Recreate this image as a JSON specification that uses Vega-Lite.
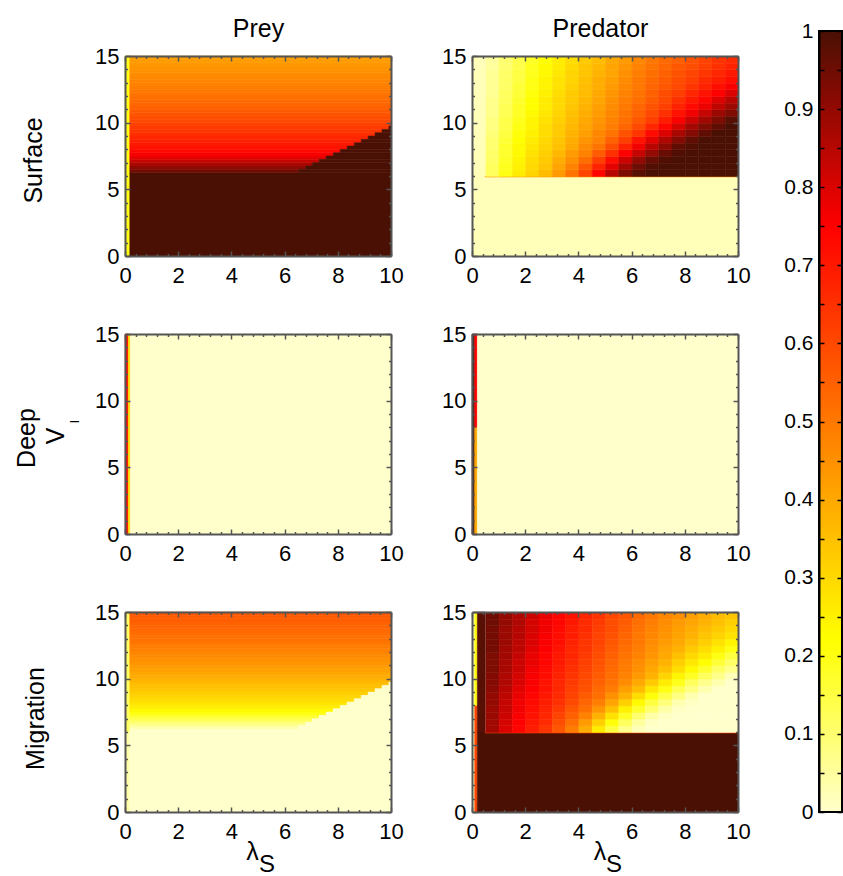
{
"$schema":"https://vega.github.io/schema/vega-lite/v6.json",
"padding":{"left":13,"top":16,"right":2,"bottom":2},
"background":"white",
"config":{
 "view":{"stroke":null},
 "font":"Liberation Sans",
 "axis":{"domainColor":"#555555","domainWidth":2,"tickColor":"#555555","tickWidth":1.5,"labelFont":"Liberation Sans","labelFontSize":22,"labelColor":"#000000","titleFont":"Liberation Sans","titleFontSize":25,"titleFontWeight":"normal","titleColor":"#000000","grid":false,"labelOverlap":false,"labelFlush":false,"labelBound":false}
},
"datasets":{
 "blocks":[
  {"p":"PyS","x":0,"x2":0.18,"y":0,"y2":15,"v":0.2},
  {"p":"PyS","x":0.18,"x2":10,"y":0,"y2":6.25,"v":1},
  {"p":"PyD","x":0,"x2":0.12,"y":0,"y2":15,"v":0.75},
  {"p":"PyD","x":0.12,"x2":0.2,"y":0,"y2":15,"v":0.3},
  {"p":"PyD","x":0.2,"x2":10,"y":0,"y2":15,"v":0},
  {"p":"PyM","x":0,"x2":0.18,"y":0,"y2":6,"v":0.04},
  {"p":"PyM","x":0,"x2":0.18,"y":6,"y2":15,"v":0.12},
  {"p":"PyM","x":0.18,"x2":10,"y":0,"y2":6.25,"v":0},
  {"p":"PdS","x":0,"x2":10,"y":0,"y2":6,"v":0.02},
  {"p":"PdS","x":0,"x2":0.5,"y":6,"y2":15,"v":0.02},
  {"p":"PdS","x":0.5,"x2":10,"y":5.92,"y2":6,"v":0.45},
  {"p":"PdD","x":0,"x2":0.1,"y":0,"y2":15,"v":1},
  {"p":"PdD","x":0.1,"x2":0.2,"y":0,"y2":8,"v":0.4},
  {"p":"PdD","x":0.1,"x2":0.2,"y":8,"y2":15,"v":0.75},
  {"p":"PdD","x":0.2,"x2":10,"y":0,"y2":15,"v":0},
  {"p":"PdM","x":0,"x2":0.1,"y":0,"y2":15,"v":0.02},
  {"p":"PdM","x":0.1,"x2":0.2,"y":0,"y2":8,"v":0.6},
  {"p":"PdM","x":0.1,"x2":0.2,"y":8,"y2":15,"v":0.2},
  {"p":"PdM","x":0.2,"x2":10,"y":0,"y2":6,"v":1},
  {"p":"PdM","x":0.2,"x2":0.5,"y":6,"y2":15,"v":0.98},
  {"p":"PdM","x":0.5,"x2":10,"y":5.92,"y2":6,"v":0.6}
 ],
 "preyBands":[
  {"y":6.25,"y2":6.5,"xb":6.53,"s":0.95,"m":0.04},
  {"y":6.5,"y2":6.75,"xb":6.79,"s":0.91,"m":0.08},
  {"y":6.75,"y2":7,"xb":7.04,"s":0.87,"m":0.12},
  {"y":7,"y2":7.25,"xb":7.3,"s":0.83,"m":0.16},
  {"y":7.25,"y2":7.5,"xb":7.56,"s":0.79,"m":0.2},
  {"y":7.5,"y2":7.75,"xb":7.83,"s":0.76,"m":0.23},
  {"y":7.75,"y2":8,"xb":8.09,"s":0.735,"m":0.255},
  {"y":8,"y2":8.25,"xb":8.35,"s":0.715,"m":0.275},
  {"y":8.25,"y2":8.5,"xb":8.62,"s":0.7,"m":0.29},
  {"y":8.5,"y2":8.75,"xb":8.88,"s":0.685,"m":0.305},
  {"y":8.75,"y2":9,"xb":9.14,"s":0.67,"m":0.32},
  {"y":9,"y2":9.25,"xb":9.4,"s":0.655,"m":0.335},
  {"y":9.25,"y2":9.5,"xb":9.66,"s":0.64,"m":0.35},
  {"y":9.5,"y2":9.75,"xb":9.92,"s":0.63,"m":0.36},
  {"y":9.75,"y2":10,"xb":10,"s":0.615,"m":0.375},
  {"y":10,"y2":10.25,"xb":10,"s":0.6,"m":0.39},
  {"y":10.25,"y2":10.5,"xb":10,"s":0.59,"m":0.4},
  {"y":10.5,"y2":10.75,"xb":10,"s":0.575,"m":0.415},
  {"y":10.75,"y2":11,"xb":10,"s":0.565,"m":0.425},
  {"y":11,"y2":11.25,"xb":10,"s":0.55,"m":0.44},
  {"y":11.25,"y2":11.5,"xb":10,"s":0.54,"m":0.45},
  {"y":11.5,"y2":11.75,"xb":10,"s":0.53,"m":0.46},
  {"y":11.75,"y2":12,"xb":10,"s":0.52,"m":0.47},
  {"y":12,"y2":12.25,"xb":10,"s":0.51,"m":0.48},
  {"y":12.25,"y2":12.5,"xb":10,"s":0.5,"m":0.49},
  {"y":12.5,"y2":12.75,"xb":10,"s":0.49,"m":0.5},
  {"y":12.75,"y2":13,"xb":10,"s":0.48,"m":0.51},
  {"y":13,"y2":13.25,"xb":10,"s":0.475,"m":0.515},
  {"y":13.25,"y2":13.5,"xb":10,"s":0.465,"m":0.525},
  {"y":13.5,"y2":13.75,"xb":10,"s":0.46,"m":0.53},
  {"y":13.75,"y2":14,"xb":10,"s":0.45,"m":0.54},
  {"y":14,"y2":14.25,"xb":10,"s":0.445,"m":0.545},
  {"y":14.25,"y2":14.5,"xb":10,"s":0.435,"m":0.555},
  {"y":14.5,"y2":14.75,"xb":10,"s":0.43,"m":0.56},
  {"y":14.75,"y2":15,"xb":10,"s":0.42,"m":0.57}
 ],
 "grid":[
  {"x":0.5,"y":6,"s":0.12,"m":0.88},{"x":1,"y":6,"s":0.2,"m":0.8},{"x":1.5,"y":6,"s":0.26,"m":0.74},{"x":2,"y":6,"s":0.31,"m":0.69},{"x":2.5,"y":6,"s":0.36,"m":0.64},{"x":3,"y":6,"s":0.43,"m":0.57},{"x":3.5,"y":6,"s":0.51,"m":0.49},{"x":4,"y":6,"s":0.61,"m":0.39},{"x":4.5,"y":6,"s":0.74,"m":0.26},{"x":5,"y":6,"s":0.85,"m":0.15},{"x":5.5,"y":6,"s":0.93,"m":0.07},{"x":6,"y":6,"s":0.98,"m":0.02},{"x":6.5,"y":6,"s":1,"m":0},{"x":7,"y":6,"s":1,"m":0},{"x":7.5,"y":6,"s":1,"m":0},{"x":8,"y":6,"s":1,"m":0},{"x":8.5,"y":6,"s":1,"m":0},{"x":9,"y":6,"s":1,"m":0},{"x":9.5,"y":6,"s":1,"m":0},
  {"x":0.5,"y":6.5,"s":0.12,"m":0.88},{"x":1,"y":6.5,"s":0.19,"m":0.81},{"x":1.5,"y":6.5,"s":0.25,"m":0.75},{"x":2,"y":6.5,"s":0.3,"m":0.7},{"x":2.5,"y":6.5,"s":0.34,"m":0.66},{"x":3,"y":6.5,"s":0.41,"m":0.59},{"x":3.5,"y":6.5,"s":0.48,"m":0.52},{"x":4,"y":6.5,"s":0.57,"m":0.43},{"x":4.5,"y":6.5,"s":0.68,"m":0.32},{"x":5,"y":6.5,"s":0.79,"m":0.21},{"x":5.5,"y":6.5,"s":0.88,"m":0.12},{"x":6,"y":6.5,"s":0.95,"m":0.05},{"x":6.5,"y":6.5,"s":0.99,"m":0.01},{"x":7,"y":6.5,"s":1,"m":0},{"x":7.5,"y":6.5,"s":1,"m":0},{"x":8,"y":6.5,"s":1,"m":0},{"x":8.5,"y":6.5,"s":1,"m":0},{"x":9,"y":6.5,"s":1,"m":0},{"x":9.5,"y":6.5,"s":1,"m":0},
  {"x":0.5,"y":7,"s":0.11,"m":0.89},{"x":1,"y":7,"s":0.18,"m":0.82},{"x":1.5,"y":7,"s":0.24,"m":0.76},{"x":2,"y":7,"s":0.29,"m":0.71},{"x":2.5,"y":7,"s":0.33,"m":0.67},{"x":3,"y":7,"s":0.39,"m":0.61},{"x":3.5,"y":7,"s":0.45,"m":0.55},{"x":4,"y":7,"s":0.52,"m":0.48},{"x":4.5,"y":7,"s":0.62,"m":0.38},{"x":5,"y":7,"s":0.72,"m":0.28},{"x":5.5,"y":7,"s":0.82,"m":0.18},{"x":6,"y":7,"s":0.9,"m":0.1},{"x":6.5,"y":7,"s":0.96,"m":0.04},{"x":7,"y":7,"s":0.99,"m":0.01},{"x":7.5,"y":7,"s":1,"m":0},{"x":8,"y":7,"s":1,"m":0},{"x":8.5,"y":7,"s":1,"m":0},{"x":9,"y":7,"s":1,"m":0},{"x":9.5,"y":7,"s":1,"m":0},
  {"x":0.5,"y":7.5,"s":0.11,"m":0.89},{"x":1,"y":7.5,"s":0.17,"m":0.83},{"x":1.5,"y":7.5,"s":0.23,"m":0.77},{"x":2,"y":7.5,"s":0.28,"m":0.72},{"x":2.5,"y":7.5,"s":0.32,"m":0.68},{"x":3,"y":7.5,"s":0.37,"m":0.63},{"x":3.5,"y":7.5,"s":0.43,"m":0.57},{"x":4,"y":7.5,"s":0.48,"m":0.52},{"x":4.5,"y":7.5,"s":0.56,"m":0.44},{"x":5,"y":7.5,"s":0.65,"m":0.35},{"x":5.5,"y":7.5,"s":0.75,"m":0.25},{"x":6,"y":7.5,"s":0.83,"m":0.17},{"x":6.5,"y":7.5,"s":0.9,"m":0.1},{"x":7,"y":7.5,"s":0.96,"m":0.04},{"x":7.5,"y":7.5,"s":0.99,"m":0.01},{"x":8,"y":7.5,"s":1,"m":0},{"x":8.5,"y":7.5,"s":1,"m":0},{"x":9,"y":7.5,"s":1,"m":0},{"x":9.5,"y":7.5,"s":1,"m":0},
  {"x":0.5,"y":8,"s":0.1,"m":0.9},{"x":1,"y":8,"s":0.17,"m":0.83},{"x":1.5,"y":8,"s":0.23,"m":0.77},{"x":2,"y":8,"s":0.27,"m":0.73},{"x":2.5,"y":8,"s":0.31,"m":0.69},{"x":3,"y":8,"s":0.35,"m":0.65},{"x":3.5,"y":8,"s":0.4,"m":0.6},{"x":4,"y":8,"s":0.46,"m":0.54},{"x":4.5,"y":8,"s":0.51,"m":0.49},{"x":5,"y":8,"s":0.59,"m":0.41},{"x":5.5,"y":8,"s":0.68,"m":0.32},{"x":6,"y":8,"s":0.77,"m":0.23},{"x":6.5,"y":8,"s":0.85,"m":0.15},{"x":7,"y":8,"s":0.91,"m":0.09},{"x":7.5,"y":8,"s":0.97,"m":0.03},{"x":8,"y":8,"s":0.99,"m":0.01},{"x":8.5,"y":8,"s":1,"m":0},{"x":9,"y":8,"s":1,"m":0},{"x":9.5,"y":8,"s":1,"m":0},
  {"x":0.5,"y":8.5,"s":0.1,"m":0.9},{"x":1,"y":8.5,"s":0.16,"m":0.84},{"x":1.5,"y":8.5,"s":0.22,"m":0.78},{"x":2,"y":8.5,"s":0.26,"m":0.74},{"x":2.5,"y":8.5,"s":0.3,"m":0.7},{"x":3,"y":8.5,"s":0.34,"m":0.66},{"x":3.5,"y":8.5,"s":0.39,"m":0.61},{"x":4,"y":8.5,"s":0.44,"m":0.56},{"x":4.5,"y":8.5,"s":0.48,"m":0.52},{"x":5,"y":8.5,"s":0.55,"m":0.45},{"x":5.5,"y":8.5,"s":0.62,"m":0.38},{"x":6,"y":8.5,"s":0.71,"m":0.29},{"x":6.5,"y":8.5,"s":0.79,"m":0.21},{"x":7,"y":8.5,"s":0.86,"m":0.14},{"x":7.5,"y":8.5,"s":0.92,"m":0.08},{"x":8,"y":8.5,"s":0.97,"m":0.03},{"x":8.5,"y":8.5,"s":1,"m":0},{"x":9,"y":8.5,"s":1,"m":0},{"x":9.5,"y":8.5,"s":1,"m":0},
  {"x":0.5,"y":9,"s":0.09,"m":0.91},{"x":1,"y":9,"s":0.15,"m":0.85},{"x":1.5,"y":9,"s":0.21,"m":0.79},{"x":2,"y":9,"s":0.25,"m":0.75},{"x":2.5,"y":9,"s":0.29,"m":0.71},{"x":3,"y":9,"s":0.33,"m":0.67},{"x":3.5,"y":9,"s":0.38,"m":0.62},{"x":4,"y":9,"s":0.42,"m":0.58},{"x":4.5,"y":9,"s":0.47,"m":0.53},{"x":5,"y":9,"s":0.51,"m":0.49},{"x":5.5,"y":9,"s":0.58,"m":0.42},{"x":6,"y":9,"s":0.64,"m":0.36},{"x":6.5,"y":9,"s":0.73,"m":0.27},{"x":7,"y":9,"s":0.8,"m":0.2},{"x":7.5,"y":9,"s":0.87,"m":0.13},{"x":8,"y":9,"s":0.92,"m":0.08},{"x":8.5,"y":9,"s":0.97,"m":0.03},{"x":9,"y":9,"s":1,"m":0},{"x":9.5,"y":9,"s":1,"m":0},
  {"x":0.5,"y":9.5,"s":0.08,"m":0.92},{"x":1,"y":9.5,"s":0.14,"m":0.86},{"x":1.5,"y":9.5,"s":0.2,"m":0.8},{"x":2,"y":9.5,"s":0.24,"m":0.76},{"x":2.5,"y":9.5,"s":0.29,"m":0.71},{"x":3,"y":9.5,"s":0.33,"m":0.67},{"x":3.5,"y":9.5,"s":0.37,"m":0.63},{"x":4,"y":9.5,"s":0.41,"m":0.59},{"x":4.5,"y":9.5,"s":0.45,"m":0.55},{"x":5,"y":9.5,"s":0.49,"m":0.51},{"x":5.5,"y":9.5,"s":0.54,"m":0.46},{"x":6,"y":9.5,"s":0.6,"m":0.4},{"x":6.5,"y":9.5,"s":0.67,"m":0.33},{"x":7,"y":9.5,"s":0.74,"m":0.26},{"x":7.5,"y":9.5,"s":0.81,"m":0.19},{"x":8,"y":9.5,"s":0.88,"m":0.12},{"x":8.5,"y":9.5,"s":0.93,"m":0.07},{"x":9,"y":9.5,"s":0.97,"m":0.03},{"x":9.5,"y":9.5,"s":1,"m":0},
  {"x":0.5,"y":10,"s":0.08,"m":0.92},{"x":1,"y":10,"s":0.14,"m":0.86},{"x":1.5,"y":10,"s":0.19,"m":0.81},{"x":2,"y":10,"s":0.24,"m":0.76},{"x":2.5,"y":10,"s":0.28,"m":0.72},{"x":3,"y":10,"s":0.32,"m":0.68},{"x":3.5,"y":10,"s":0.36,"m":0.64},{"x":4,"y":10,"s":0.4,"m":0.6},{"x":4.5,"y":10,"s":0.44,"m":0.56},{"x":5,"y":10,"s":0.48,"m":0.52},{"x":5.5,"y":10,"s":0.52,"m":0.48},{"x":6,"y":10,"s":0.57,"m":0.43},{"x":6.5,"y":10,"s":0.62,"m":0.38},{"x":7,"y":10,"s":0.69,"m":0.31},{"x":7.5,"y":10,"s":0.76,"m":0.24},{"x":8,"y":10,"s":0.82,"m":0.18},{"x":8.5,"y":10,"s":0.88,"m":0.12},{"x":9,"y":10,"s":0.93,"m":0.07},{"x":9.5,"y":10,"s":0.98,"m":0.02},
  {"x":0.5,"y":10.5,"s":0.07,"m":0.93},{"x":1,"y":10.5,"s":0.13,"m":0.87},{"x":1.5,"y":10.5,"s":0.18,"m":0.82},{"x":2,"y":10.5,"s":0.23,"m":0.77},{"x":2.5,"y":10.5,"s":0.27,"m":0.73},{"x":3,"y":10.5,"s":0.31,"m":0.69},{"x":3.5,"y":10.5,"s":0.35,"m":0.65},{"x":4,"y":10.5,"s":0.39,"m":0.61},{"x":4.5,"y":10.5,"s":0.43,"m":0.57},{"x":5,"y":10.5,"s":0.47,"m":0.53},{"x":5.5,"y":10.5,"s":0.51,"m":0.49},{"x":6,"y":10.5,"s":0.55,"m":0.45},{"x":6.5,"y":10.5,"s":0.6,"m":0.4},{"x":7,"y":10.5,"s":0.65,"m":0.35},{"x":7.5,"y":10.5,"s":0.71,"m":0.29},{"x":8,"y":10.5,"s":0.77,"m":0.23},{"x":8.5,"y":10.5,"s":0.83,"m":0.17},{"x":9,"y":10.5,"s":0.89,"m":0.11},{"x":9.5,"y":10.5,"s":0.93,"m":0.07},
  {"x":0.5,"y":11,"s":0.07,"m":0.93},{"x":1,"y":11,"s":0.13,"m":0.87},{"x":1.5,"y":11,"s":0.18,"m":0.82},{"x":2,"y":11,"s":0.22,"m":0.78},{"x":2.5,"y":11,"s":0.26,"m":0.74},{"x":3,"y":11,"s":0.3,"m":0.7},{"x":3.5,"y":11,"s":0.34,"m":0.66},{"x":4,"y":11,"s":0.38,"m":0.62},{"x":4.5,"y":11,"s":0.42,"m":0.58},{"x":5,"y":11,"s":0.46,"m":0.54},{"x":5.5,"y":11,"s":0.5,"m":0.5},{"x":6,"y":11,"s":0.54,"m":0.46},{"x":6.5,"y":11,"s":0.58,"m":0.42},{"x":7,"y":11,"s":0.62,"m":0.38},{"x":7.5,"y":11,"s":0.68,"m":0.32},{"x":8,"y":11,"s":0.73,"m":0.27},{"x":8.5,"y":11,"s":0.78,"m":0.22},{"x":9,"y":11,"s":0.84,"m":0.16},{"x":9.5,"y":11,"s":0.89,"m":0.11},
  {"x":0.5,"y":11.5,"s":0.07,"m":0.93},{"x":1,"y":11.5,"s":0.12,"m":0.88},{"x":1.5,"y":11.5,"s":0.17,"m":0.83},{"x":2,"y":11.5,"s":0.22,"m":0.78},{"x":2.5,"y":11.5,"s":0.26,"m":0.74},{"x":3,"y":11.5,"s":0.3,"m":0.7},{"x":3.5,"y":11.5,"s":0.33,"m":0.67},{"x":4,"y":11.5,"s":0.37,"m":0.63},{"x":4.5,"y":11.5,"s":0.41,"m":0.59},{"x":5,"y":11.5,"s":0.45,"m":0.55},{"x":5.5,"y":11.5,"s":0.49,"m":0.51},{"x":6,"y":11.5,"s":0.52,"m":0.48},{"x":6.5,"y":11.5,"s":0.56,"m":0.44},{"x":7,"y":11.5,"s":0.6,"m":0.4},{"x":7.5,"y":11.5,"s":0.65,"m":0.35},{"x":8,"y":11.5,"s":0.7,"m":0.3},{"x":8.5,"y":11.5,"s":0.74,"m":0.26},{"x":9,"y":11.5,"s":0.8,"m":0.2},{"x":9.5,"y":11.5,"s":0.85,"m":0.15},
  {"x":0.5,"y":12,"s":0.06,"m":0.94},{"x":1,"y":12,"s":0.12,"m":0.88},{"x":1.5,"y":12,"s":0.16,"m":0.84},{"x":2,"y":12,"s":0.21,"m":0.79},{"x":2.5,"y":12,"s":0.25,"m":0.75},{"x":3,"y":12,"s":0.29,"m":0.71},{"x":3.5,"y":12,"s":0.33,"m":0.67},{"x":4,"y":12,"s":0.36,"m":0.64},{"x":4.5,"y":12,"s":0.4,"m":0.6},{"x":5,"y":12,"s":0.44,"m":0.56},{"x":5.5,"y":12,"s":0.48,"m":0.52},{"x":6,"y":12,"s":0.51,"m":0.49},{"x":6.5,"y":12,"s":0.55,"m":0.45},{"x":7,"y":12,"s":0.59,"m":0.41},{"x":7.5,"y":12,"s":0.62,"m":0.38},{"x":8,"y":12,"s":0.67,"m":0.33},{"x":8.5,"y":12,"s":0.71,"m":0.29},{"x":9,"y":12,"s":0.75,"m":0.25},{"x":9.5,"y":12,"s":0.8,"m":0.2},
  {"x":0.5,"y":12.5,"s":0.06,"m":0.94},{"x":1,"y":12.5,"s":0.11,"m":0.89},{"x":1.5,"y":12.5,"s":0.16,"m":0.84},{"x":2,"y":12.5,"s":0.2,"m":0.8},{"x":2.5,"y":12.5,"s":0.24,"m":0.76},{"x":3,"y":12.5,"s":0.28,"m":0.72},{"x":3.5,"y":12.5,"s":0.32,"m":0.68},{"x":4,"y":12.5,"s":0.36,"m":0.64},{"x":4.5,"y":12.5,"s":0.39,"m":0.61},{"x":5,"y":12.5,"s":0.43,"m":0.57},{"x":5.5,"y":12.5,"s":0.47,"m":0.53},{"x":6,"y":12.5,"s":0.5,"m":0.5},{"x":6.5,"y":12.5,"s":0.54,"m":0.46},{"x":7,"y":12.5,"s":0.57,"m":0.43},{"x":7.5,"y":12.5,"s":0.6,"m":0.4},{"x":8,"y":12.5,"s":0.64,"m":0.36},{"x":8.5,"y":12.5,"s":0.68,"m":0.32},{"x":9,"y":12.5,"s":0.72,"m":0.28},{"x":9.5,"y":12.5,"s":0.76,"m":0.24},
  {"x":0.5,"y":13,"s":0.06,"m":0.94},{"x":1,"y":13,"s":0.11,"m":0.89},{"x":1.5,"y":13,"s":0.15,"m":0.85},{"x":2,"y":13,"s":0.2,"m":0.8},{"x":2.5,"y":13,"s":0.24,"m":0.76},{"x":3,"y":13,"s":0.28,"m":0.72},{"x":3.5,"y":13,"s":0.31,"m":0.69},{"x":4,"y":13,"s":0.35,"m":0.65},{"x":4.5,"y":13,"s":0.39,"m":0.61},{"x":5,"y":13,"s":0.42,"m":0.58},{"x":5.5,"y":13,"s":0.46,"m":0.54},{"x":6,"y":13,"s":0.5,"m":0.5},{"x":6.5,"y":13,"s":0.53,"m":0.47},{"x":7,"y":13,"s":0.56,"m":0.44},{"x":7.5,"y":13,"s":0.59,"m":0.41},{"x":8,"y":13,"s":0.62,"m":0.38},{"x":8.5,"y":13,"s":0.66,"m":0.34},{"x":9,"y":13,"s":0.69,"m":0.31},{"x":9.5,"y":13,"s":0.72,"m":0.28},
  {"x":0.5,"y":13.5,"s":0.06,"m":0.94},{"x":1,"y":13.5,"s":0.11,"m":0.89},{"x":1.5,"y":13.5,"s":0.15,"m":0.85},{"x":2,"y":13.5,"s":0.19,"m":0.81},{"x":2.5,"y":13.5,"s":0.23,"m":0.77},{"x":3,"y":13.5,"s":0.27,"m":0.73},{"x":3.5,"y":13.5,"s":0.31,"m":0.69},{"x":4,"y":13.5,"s":0.34,"m":0.66},{"x":4.5,"y":13.5,"s":0.38,"m":0.62},{"x":5,"y":13.5,"s":0.41,"m":0.59},{"x":5.5,"y":13.5,"s":0.45,"m":0.55},{"x":6,"y":13.5,"s":0.49,"m":0.51},{"x":6.5,"y":13.5,"s":0.52,"m":0.48},{"x":7,"y":13.5,"s":0.55,"m":0.45},{"x":7.5,"y":13.5,"s":0.58,"m":0.42},{"x":8,"y":13.5,"s":0.61,"m":0.39},{"x":8.5,"y":13.5,"s":0.64,"m":0.36},{"x":9,"y":13.5,"s":0.67,"m":0.33},{"x":9.5,"y":13.5,"s":0.7,"m":0.3},
  {"x":0.5,"y":14,"s":0.05,"m":0.95},{"x":1,"y":14,"s":0.1,"m":0.9},{"x":1.5,"y":14,"s":0.14,"m":0.86},{"x":2,"y":14,"s":0.19,"m":0.81},{"x":2.5,"y":14,"s":0.23,"m":0.77},{"x":3,"y":14,"s":0.26,"m":0.74},{"x":3.5,"y":14,"s":0.3,"m":0.7},{"x":4,"y":14,"s":0.34,"m":0.66},{"x":4.5,"y":14,"s":0.37,"m":0.63},{"x":5,"y":14,"s":0.41,"m":0.59},{"x":5.5,"y":14,"s":0.44,"m":0.56},{"x":6,"y":14,"s":0.48,"m":0.52},{"x":6.5,"y":14,"s":0.51,"m":0.49},{"x":7,"y":14,"s":0.54,"m":0.46},{"x":7.5,"y":14,"s":0.57,"m":0.43},{"x":8,"y":14,"s":0.59,"m":0.41},{"x":8.5,"y":14,"s":0.62,"m":0.38},{"x":9,"y":14,"s":0.65,"m":0.35},{"x":9.5,"y":14,"s":0.68,"m":0.32},
  {"x":0.5,"y":14.5,"s":0.05,"m":0.95},{"x":1,"y":14.5,"s":0.1,"m":0.9},{"x":1.5,"y":14.5,"s":0.14,"m":0.86},{"x":2,"y":14.5,"s":0.18,"m":0.82},{"x":2.5,"y":14.5,"s":0.22,"m":0.78},{"x":3,"y":14.5,"s":0.26,"m":0.74},{"x":3.5,"y":14.5,"s":0.29,"m":0.71},{"x":4,"y":14.5,"s":0.33,"m":0.67},{"x":4.5,"y":14.5,"s":0.36,"m":0.64},{"x":5,"y":14.5,"s":0.4,"m":0.6},{"x":5.5,"y":14.5,"s":0.43,"m":0.57},{"x":6,"y":14.5,"s":0.47,"m":0.53},{"x":6.5,"y":14.5,"s":0.5,"m":0.5},{"x":7,"y":14.5,"s":0.53,"m":0.47},{"x":7.5,"y":14.5,"s":0.55,"m":0.45},{"x":8,"y":14.5,"s":0.58,"m":0.42},{"x":8.5,"y":14.5,"s":0.61,"m":0.39},{"x":9,"y":14.5,"s":0.64,"m":0.36},{"x":9.5,"y":14.5,"s":0.66,"m":0.34}
 ],
 "cbar":[{"lo":0,"hi":1,"a":0,"b":1}]
},
"columns":3,
"align":"each",
"bounds":"flush",
"spacing":{"row":78,"column":81},
"concat":[
   {"width":266,"height":200,
    "layer":[
     {"data":{"name":"blocks"},"transform":[{"filter":"datum.p === 'PyS'"}],
      "mark":{"type":"rect","strokeWidth":0.5},
      "encoding":{
       "x":{"field":"x","type":"quantitative","scale":{"domain":[0,10],"nice":false,"zero":false},"axis":{"orient":"bottom","values":[0,0.4,0.8,1.2,1.6,2,2.4,2.8,3.2,3.6,4,4.4,4.8,5.2,5.6,6,6.4,6.8,7.2,7.6,8,8.4,8.8,9.2,9.6,10],"format":"~g","labelExpr":"datum.value % 2 === 0 ? datum.label : ''","tickSize":{"condition":{"test":"datum.value % 2 === 0","value":-5},"value":-2.5},"labelPadding":14,"title":null,"zindex":1}},
       "x2":{"field":"x2"},
       "y":{"field":"y","type":"quantitative","scale":{"domain":[0,15],"nice":false,"zero":false},"axis":{"orient":"left","values":[0,1,2,3,4,5,6,7,8,9,10,11,12,13,14,15],"format":"~g","labelExpr":"datum.value % 5 === 0 ? datum.label : ''","tickSize":{"condition":{"test":"datum.value % 5 === 0","value":-5},"value":-2.5},"labelPadding":11,"title":"Surface","titleX":-84,"titleY":104,"titleAngle":-90,"titleAlign":"center","titleBaseline":"alphabetic","zindex":1}},
       "y2":{"field":"y2"},
       "color":{"field":"v","type":"quantitative","scale":{"domain":[0,0.22,0.75,1],"range":["#ffffcc","#ffff00","#ff0000","#4a1004"],"interpolate":"rgb","clamp":true},"legend":null},
       "stroke":{"field":"v","type":"quantitative","scale":{"domain":[0,0.22,0.75,1],"range":["#ffffcc","#ffff00","#ff0000","#4a1004"],"interpolate":"rgb","clamp":true},"legend":null}}},
     {"data":{"name":"preyBands"},
      "mark":{"type":"rect","strokeWidth":0.5},
      "encoding":{
       "x":{"field":"xb","type":"quantitative","scale":{"domain":[0,10],"nice":false,"zero":false},"axis":{"orient":"top","values":[0,0.4,0.8,1.2,1.6,2,2.4,2.8,3.2,3.6,4,4.4,4.8,5.2,5.6,6,6.4,6.8,7.2,7.6,8,8.4,8.8,9.2,9.6,10],"labels":false,"tickSize":{"condition":{"test":"datum.value % 2 === 0","value":-5},"value":-2.5},"title":"Prey","titleX":133,"titleY":-20,"titleAngle":0,"titleAlign":"center","titleBaseline":"alphabetic","zindex":1}},
       "x2":{"datum":0.18},
       "y":{"field":"y","type":"quantitative","scale":{"domain":[0,15],"nice":false,"zero":false},"axis":{"orient":"right","values":[0,1,2,3,4,5,6,7,8,9,10,11,12,13,14,15],"labels":false,"tickSize":{"condition":{"test":"datum.value % 5 === 0","value":-5},"value":-2.5},"title":null,"zindex":1}},
       "y2":{"field":"y2"},
       "color":{"field":"s","type":"quantitative","scale":{"domain":[0,0.22,0.75,1],"range":["#ffffcc","#ffff00","#ff0000","#4a1004"],"interpolate":"rgb","clamp":true},"legend":null},
       "stroke":{"field":"s","type":"quantitative","scale":{"domain":[0,0.22,0.75,1],"range":["#ffffcc","#ffff00","#ff0000","#4a1004"],"interpolate":"rgb","clamp":true},"legend":null}}},
     {"data":{"name":"preyBands"},"transform":[{"filter":"datum.xb < 10"}],
      "mark":{"type":"rect","strokeWidth":0.5,"fill":"#4a1004","stroke":"#4a1004"},
      "encoding":{
       "x":{"field":"xb","type":"quantitative","scale":{"domain":[0,10],"nice":false,"zero":false},"axis":null},
       "x2":{"datum":10},
       "y":{"field":"y","type":"quantitative","scale":{"domain":[0,15],"nice":false,"zero":false},"axis":null},
       "y2":{"field":"y2"}}}
    ],
    "resolve":{"axis":{"x":"independent","y":"independent"}}},
   {"width":266,"height":200,
    "layer":[
     {"data":{"name":"blocks"},"transform":[{"filter":"datum.p === 'PdS'"}],
      "mark":{"type":"rect","strokeWidth":0.5},
      "encoding":{
       "x":{"field":"x","type":"quantitative","scale":{"domain":[0,10],"nice":false,"zero":false},"axis":{"orient":"bottom","values":[0,0.4,0.8,1.2,1.6,2,2.4,2.8,3.2,3.6,4,4.4,4.8,5.2,5.6,6,6.4,6.8,7.2,7.6,8,8.4,8.8,9.2,9.6,10],"format":"~g","labelExpr":"datum.value % 2 === 0 ? datum.label : ''","tickSize":{"condition":{"test":"datum.value % 2 === 0","value":-5},"value":-2.5},"labelPadding":14,"title":null,"zindex":1}},
       "x2":{"field":"x2"},
       "y":{"field":"y","type":"quantitative","scale":{"domain":[0,15],"nice":false,"zero":false},"axis":{"orient":"left","values":[0,1,2,3,4,5,6,7,8,9,10,11,12,13,14,15],"format":"~g","labelExpr":"datum.value % 5 === 0 ? datum.label : ''","tickSize":{"condition":{"test":"datum.value % 5 === 0","value":-5},"value":-2.5},"labelPadding":11,"title":null,"zindex":1}},
       "y2":{"field":"y2"},
       "color":{"field":"v","type":"quantitative","scale":{"domain":[0,0.22,0.75,1],"range":["#ffffcc","#ffff00","#ff0000","#4a1004"],"interpolate":"rgb","clamp":true},"legend":null},
       "stroke":{"field":"v","type":"quantitative","scale":{"domain":[0,0.22,0.75,1],"range":["#ffffcc","#ffff00","#ff0000","#4a1004"],"interpolate":"rgb","clamp":true},"legend":null}}},
     {"data":{"name":"grid"},
      "mark":{"type":"rect","binSpacing":0,"strokeWidth":0.5},
      "encoding":{
       "x":{"field":"x","type":"quantitative","bin":{"binned":true,"step":0.5},"scale":{"domain":[0,10],"nice":false,"zero":false},"axis":{"orient":"top","values":[0,0.4,0.8,1.2,1.6,2,2.4,2.8,3.2,3.6,4,4.4,4.8,5.2,5.6,6,6.4,6.8,7.2,7.6,8,8.4,8.8,9.2,9.6,10],"labels":false,"tickSize":{"condition":{"test":"datum.value % 2 === 0","value":-5},"value":-2.5},"title":"Predator","titleX":128,"titleY":-20,"titleAngle":0,"titleAlign":"center","titleBaseline":"alphabetic","zindex":1}},
       "y":{"field":"y","type":"quantitative","bin":{"binned":true,"step":0.5},"scale":{"domain":[0,15],"nice":false,"zero":false},"axis":{"orient":"right","values":[0,1,2,3,4,5,6,7,8,9,10,11,12,13,14,15],"labels":false,"tickSize":{"condition":{"test":"datum.value % 5 === 0","value":-5},"value":-2.5},"title":null,"zindex":1}},
       "color":{"field":"s","type":"quantitative","scale":{"domain":[0,0.22,0.75,1],"range":["#ffffcc","#ffff00","#ff0000","#4a1004"],"interpolate":"rgb","clamp":true},"legend":null},
       "stroke":{"field":"s","type":"quantitative","scale":{"domain":[0,0.22,0.75,1],"range":["#ffffcc","#ffff00","#ff0000","#4a1004"],"interpolate":"rgb","clamp":true},"legend":null}}}
    ],
    "resolve":{"axis":{"x":"independent","y":"independent"}}},
   {"width":23,"height":200,
    "data":{"name":"cbar"},
    "layer":[
     {"mark":{"type":"rect","fill":{"gradient":"linear","x1":0,"y1":1,"x2":0,"y2":0,"stops":[{"offset":0,"color":"#ffffcc"},{"offset":0.22,"color":"#ffff00"},{"offset":0.75,"color":"#ff0000"},{"offset":1,"color":"#4a1004"}]},"stroke":"#000000","strokeWidth":2},
      "encoding":{
       "x":{"field":"a","type":"quantitative","scale":{"domain":[0,1],"nice":false,"zero":false},"axis":null},
       "x2":{"field":"b"},
       "y":{"field":"lo","type":"quantitative","scale":{"domain":[0,1],"range":[756,-25],"nice":false,"zero":false},"axis":{"orient":"left","values":[0,0.05,0.1,0.15,0.2,0.25,0.3,0.35,0.4,0.45,0.5,0.55,0.6,0.65,0.7,0.75,0.8,0.85,0.9,0.95,1],"format":"~g","labelExpr":"round(datum.value*20) % 2 === 0 ? datum.label : ''","tickSize":-5,"tickColor":"#000000","domainColor":"#000000","labelPadding":11,"labelFontSize":21,"title":null,"zindex":1}},
       "y2":{"field":"hi"}}},
     {"mark":{"type":"rect","opacity":0},
      "encoding":{
       "x":{"field":"a","type":"quantitative","scale":{"domain":[0,1],"nice":false,"zero":false},"axis":null},
       "x2":{"field":"b"},
       "y":{"field":"lo","type":"quantitative","scale":{"domain":[0,1],"range":[756,-25],"nice":false,"zero":false},"axis":{"orient":"right","values":[0,0.05,0.1,0.15,0.2,0.25,0.3,0.35,0.4,0.45,0.5,0.55,0.6,0.65,0.7,0.75,0.8,0.85,0.9,0.95,1],"labels":false,"tickSize":-5,"tickColor":"#000000","domainColor":"#000000","title":null,"zindex":1}},
       "y2":{"field":"hi"}}}
    ],
    "resolve":{"axis":{"y":"independent"}}},
   {"width":266,"height":200,
    "layer":[
     {"data":{"name":"blocks"},"transform":[{"filter":"datum.p === 'PyD'"}],
      "mark":{"type":"rect","strokeWidth":0.5},
      "encoding":{
       "x":{"field":"x","type":"quantitative","scale":{"domain":[0,10],"nice":false,"zero":false},"axis":{"orient":"bottom","values":[0,0.4,0.8,1.2,1.6,2,2.4,2.8,3.2,3.6,4,4.4,4.8,5.2,5.6,6,6.4,6.8,7.2,7.6,8,8.4,8.8,9.2,9.6,10],"format":"~g","labelExpr":"datum.value % 2 === 0 ? datum.label : ''","tickSize":{"condition":{"test":"datum.value % 2 === 0","value":-5},"value":-2.5},"labelPadding":14,"title":null,"zindex":1}},
       "x2":{"field":"x2"},
       "y":{"field":"y","type":"quantitative","scale":{"domain":[0,15],"nice":false,"zero":false},"axis":{"orient":"left","values":[0,1,2,3,4,5,6,7,8,9,10,11,12,13,14,15],"format":"~g","labelExpr":"datum.value % 5 === 0 ? datum.label : ''","tickSize":{"condition":{"test":"datum.value % 5 === 0","value":-5},"value":-2.5},"labelPadding":11,"title":"Deep","titleX":-91,"titleY":103.5,"titleAngle":-90,"titleAlign":"center","titleBaseline":"alphabetic","zindex":1}},
       "y2":{"field":"y2"},
       "color":{"field":"v","type":"quantitative","scale":{"domain":[0,0.22,0.75,1],"range":["#ffffcc","#ffff00","#ff0000","#4a1004"],"interpolate":"rgb","clamp":true},"legend":null},
       "stroke":{"field":"v","type":"quantitative","scale":{"domain":[0,0.22,0.75,1],"range":["#ffffcc","#ffff00","#ff0000","#4a1004"],"interpolate":"rgb","clamp":true},"legend":null}}},
     {"data":{"name":"blocks"},"transform":[{"filter":"datum.p === 'PyD'"}],
      "mark":{"type":"rect","opacity":0},
      "encoding":{
       "x":{"field":"x","type":"quantitative","scale":{"domain":[0,10],"nice":false,"zero":false},"axis":{"orient":"top","values":[0,0.4,0.8,1.2,1.6,2,2.4,2.8,3.2,3.6,4,4.4,4.8,5.2,5.6,6,6.4,6.8,7.2,7.6,8,8.4,8.8,9.2,9.6,10],"labels":false,"tickSize":{"condition":{"test":"datum.value % 2 === 0","value":-5},"value":-2.5},"title":null,"zindex":1}},
       "x2":{"field":"x2"},
       "y":{"field":"y","type":"quantitative","scale":{"domain":[0,15],"nice":false,"zero":false},"axis":{"orient":"right","values":[0,1,2,3,4,5,6,7,8,9,10,11,12,13,14,15],"labels":false,"tickSize":{"condition":{"test":"datum.value % 5 === 0","value":-5},"value":-2.5},"title":"l","titleX":-313,"titleY":87,"titleAngle":-90,"titleAlign":"center","titleBaseline":"alphabetic","titleFontSize":13,"zindex":1}},
       "y2":{"field":"y2"}}},
     {"data":{"name":"blocks"},"transform":[{"filter":"datum.p === 'PyD'"}],
      "mark":{"type":"rect","opacity":0},
      "encoding":{
       "x":{"field":"x","type":"quantitative","scale":{"domain":[0,10],"nice":false,"zero":false},"axis":null},
       "x2":{"field":"x2"},
       "y":{"field":"y","type":"quantitative","scale":{"domain":[0,15],"nice":false,"zero":false},"axis":{"orient":"left","domain":false,"ticks":false,"labels":false,"title":"V","titleX":-62,"titleY":101.5,"titleAngle":-90,"titleAlign":"center","titleBaseline":"alphabetic","zindex":1}},
       "y2":{"field":"y2"}}}
    ],
    "resolve":{"axis":{"x":"independent","y":"independent"}}},
   {"width":266,"height":200,
    "layer":[
     {"data":{"name":"blocks"},"transform":[{"filter":"datum.p === 'PdD'"}],
      "mark":{"type":"rect","strokeWidth":0.5},
      "encoding":{
       "x":{"field":"x","type":"quantitative","scale":{"domain":[0,10],"nice":false,"zero":false},"axis":{"orient":"bottom","values":[0,0.4,0.8,1.2,1.6,2,2.4,2.8,3.2,3.6,4,4.4,4.8,5.2,5.6,6,6.4,6.8,7.2,7.6,8,8.4,8.8,9.2,9.6,10],"format":"~g","labelExpr":"datum.value % 2 === 0 ? datum.label : ''","tickSize":{"condition":{"test":"datum.value % 2 === 0","value":-5},"value":-2.5},"labelPadding":14,"title":null,"zindex":1}},
       "x2":{"field":"x2"},
       "y":{"field":"y","type":"quantitative","scale":{"domain":[0,15],"nice":false,"zero":false},"axis":{"orient":"left","values":[0,1,2,3,4,5,6,7,8,9,10,11,12,13,14,15],"format":"~g","labelExpr":"datum.value % 5 === 0 ? datum.label : ''","tickSize":{"condition":{"test":"datum.value % 5 === 0","value":-5},"value":-2.5},"labelPadding":11,"title":null,"zindex":1}},
       "y2":{"field":"y2"},
       "color":{"field":"v","type":"quantitative","scale":{"domain":[0,0.22,0.75,1],"range":["#ffffcc","#ffff00","#ff0000","#4a1004"],"interpolate":"rgb","clamp":true},"legend":null},
       "stroke":{"field":"v","type":"quantitative","scale":{"domain":[0,0.22,0.75,1],"range":["#ffffcc","#ffff00","#ff0000","#4a1004"],"interpolate":"rgb","clamp":true},"legend":null}}},
     {"data":{"name":"blocks"},"transform":[{"filter":"datum.p === 'PdD'"}],
      "mark":{"type":"rect","opacity":0},
      "encoding":{
       "x":{"field":"x","type":"quantitative","scale":{"domain":[0,10],"nice":false,"zero":false},"axis":{"orient":"top","values":[0,0.4,0.8,1.2,1.6,2,2.4,2.8,3.2,3.6,4,4.4,4.8,5.2,5.6,6,6.4,6.8,7.2,7.6,8,8.4,8.8,9.2,9.6,10],"labels":false,"tickSize":{"condition":{"test":"datum.value % 2 === 0","value":-5},"value":-2.5},"title":null,"zindex":1}},
       "x2":{"field":"x2"},
       "y":{"field":"y","type":"quantitative","scale":{"domain":[0,15],"nice":false,"zero":false},"axis":{"orient":"right","values":[0,1,2,3,4,5,6,7,8,9,10,11,12,13,14,15],"labels":false,"tickSize":{"condition":{"test":"datum.value % 5 === 0","value":-5},"value":-2.5},"title":null,"zindex":1}},
       "y2":{"field":"y2"}}}
    ],
    "resolve":{"axis":{"x":"independent","y":"independent"}}},
   {"width":23,"height":200,
    "data":{"name":"cbar"},
    "mark":{"type":"rect","opacity":0},
    "encoding":{
     "x":{"field":"a","type":"quantitative","axis":null},
     "x2":{"field":"b"},
     "y":{"field":"lo","type":"quantitative","axis":null},
     "y2":{"field":"hi"}}},
   {"width":266,"height":200,
    "layer":[
     {"data":{"name":"blocks"},"transform":[{"filter":"datum.p === 'PyM'"}],
      "mark":{"type":"rect","strokeWidth":0.5},
      "encoding":{
       "x":{"field":"x","type":"quantitative","scale":{"domain":[0,10],"nice":false,"zero":false},"axis":{"orient":"bottom","values":[0,0.4,0.8,1.2,1.6,2,2.4,2.8,3.2,3.6,4,4.4,4.8,5.2,5.6,6,6.4,6.8,7.2,7.6,8,8.4,8.8,9.2,9.6,10],"format":"~g","labelExpr":"datum.value % 2 === 0 ? datum.label : ''","tickSize":{"condition":{"test":"datum.value % 2 === 0","value":-5},"value":-2.5},"labelPadding":14,"title":"λ","titleX":127,"titleY":47,"titleAngle":0,"titleAlign":"center","titleBaseline":"alphabetic","zindex":1}},
       "x2":{"field":"x2"},
       "y":{"field":"y","type":"quantitative","scale":{"domain":[0,15],"nice":false,"zero":false},"axis":{"orient":"left","values":[0,1,2,3,4,5,6,7,8,9,10,11,12,13,14,15],"format":"~g","labelExpr":"datum.value % 5 === 0 ? datum.label : ''","tickSize":{"condition":{"test":"datum.value % 5 === 0","value":-5},"value":-2.5},"labelPadding":11,"title":"Migration","titleX":-82,"titleY":106,"titleAngle":-90,"titleAlign":"center","titleBaseline":"alphabetic","zindex":1}},
       "y2":{"field":"y2"},
       "color":{"field":"v","type":"quantitative","scale":{"domain":[0,0.22,0.75,1],"range":["#ffffcc","#ffff00","#ff0000","#4a1004"],"interpolate":"rgb","clamp":true},"legend":null},
       "stroke":{"field":"v","type":"quantitative","scale":{"domain":[0,0.22,0.75,1],"range":["#ffffcc","#ffff00","#ff0000","#4a1004"],"interpolate":"rgb","clamp":true},"legend":null}}},
     {"data":{"name":"preyBands"},
      "mark":{"type":"rect","strokeWidth":0.5},
      "encoding":{
       "x":{"field":"xb","type":"quantitative","scale":{"domain":[0,10],"nice":false,"zero":false},"axis":{"orient":"top","values":[0,0.4,0.8,1.2,1.6,2,2.4,2.8,3.2,3.6,4,4.4,4.8,5.2,5.6,6,6.4,6.8,7.2,7.6,8,8.4,8.8,9.2,9.6,10],"labels":false,"tickSize":{"condition":{"test":"datum.value % 2 === 0","value":-5},"value":-2.5},"title":null,"zindex":1}},
       "x2":{"datum":0.18},
       "y":{"field":"y","type":"quantitative","scale":{"domain":[0,15],"nice":false,"zero":false},"axis":{"orient":"right","values":[0,1,2,3,4,5,6,7,8,9,10,11,12,13,14,15],"labels":false,"tickSize":{"condition":{"test":"datum.value % 5 === 0","value":-5},"value":-2.5},"title":null,"zindex":1}},
       "y2":{"field":"y2"},
       "color":{"field":"m","type":"quantitative","scale":{"domain":[0,0.22,0.75,1],"range":["#ffffcc","#ffff00","#ff0000","#4a1004"],"interpolate":"rgb","clamp":true},"legend":null},
       "stroke":{"field":"m","type":"quantitative","scale":{"domain":[0,0.22,0.75,1],"range":["#ffffcc","#ffff00","#ff0000","#4a1004"],"interpolate":"rgb","clamp":true},"legend":null}}},
     {"data":{"name":"preyBands"},"transform":[{"filter":"datum.xb < 10"}],
      "mark":{"type":"rect","strokeWidth":0.5,"fill":"#ffffcc","stroke":"#ffffcc"},
      "encoding":{
       "x":{"field":"xb","type":"quantitative","scale":{"domain":[0,10],"nice":false,"zero":false},"axis":null},
       "x2":{"datum":10},
       "y":{"field":"y","type":"quantitative","scale":{"domain":[0,15],"nice":false,"zero":false},"axis":null},
       "y2":{"field":"y2"}}},
     {"data":{"name":"blocks"},"transform":[{"filter":"datum.p === 'PyM'"}],
      "mark":{"type":"rect","opacity":0},
      "encoding":{
       "x":{"field":"x","type":"quantitative","scale":{"domain":[0,10],"nice":false,"zero":false},"axis":{"orient":"bottom","domain":false,"ticks":false,"labels":false,"title":"S","titleX":141.5,"titleY":59,"titleAngle":0,"titleAlign":"center","titleBaseline":"alphabetic","titleFontSize":24,"zindex":1}},
       "x2":{"field":"x2"},
       "y":{"field":"y","type":"quantitative","scale":{"domain":[0,15],"nice":false,"zero":false},"axis":null},
       "y2":{"field":"y2"}}}
    ],
    "resolve":{"axis":{"x":"independent","y":"independent"}}},
   {"width":266,"height":200,
    "layer":[
     {"data":{"name":"blocks"},"transform":[{"filter":"datum.p === 'PdM'"}],
      "mark":{"type":"rect","strokeWidth":0.5},
      "encoding":{
       "x":{"field":"x","type":"quantitative","scale":{"domain":[0,10],"nice":false,"zero":false},"axis":{"orient":"bottom","values":[0,0.4,0.8,1.2,1.6,2,2.4,2.8,3.2,3.6,4,4.4,4.8,5.2,5.6,6,6.4,6.8,7.2,7.6,8,8.4,8.8,9.2,9.6,10],"format":"~g","labelExpr":"datum.value % 2 === 0 ? datum.label : ''","tickSize":{"condition":{"test":"datum.value % 2 === 0","value":-5},"value":-2.5},"labelPadding":14,"title":"λ","titleX":127.5,"titleY":47,"titleAngle":0,"titleAlign":"center","titleBaseline":"alphabetic","zindex":1}},
       "x2":{"field":"x2"},
       "y":{"field":"y","type":"quantitative","scale":{"domain":[0,15],"nice":false,"zero":false},"axis":{"orient":"left","values":[0,1,2,3,4,5,6,7,8,9,10,11,12,13,14,15],"format":"~g","labelExpr":"datum.value % 5 === 0 ? datum.label : ''","tickSize":{"condition":{"test":"datum.value % 5 === 0","value":-5},"value":-2.5},"labelPadding":11,"title":null,"zindex":1}},
       "y2":{"field":"y2"},
       "color":{"field":"v","type":"quantitative","scale":{"domain":[0,0.22,0.75,1],"range":["#ffffcc","#ffff00","#ff0000","#4a1004"],"interpolate":"rgb","clamp":true},"legend":null},
       "stroke":{"field":"v","type":"quantitative","scale":{"domain":[0,0.22,0.75,1],"range":["#ffffcc","#ffff00","#ff0000","#4a1004"],"interpolate":"rgb","clamp":true},"legend":null}}},
     {"data":{"name":"grid"},
      "mark":{"type":"rect","binSpacing":0,"strokeWidth":0.5},
      "encoding":{
       "x":{"field":"x","type":"quantitative","bin":{"binned":true,"step":0.5},"scale":{"domain":[0,10],"nice":false,"zero":false},"axis":{"orient":"top","values":[0,0.4,0.8,1.2,1.6,2,2.4,2.8,3.2,3.6,4,4.4,4.8,5.2,5.6,6,6.4,6.8,7.2,7.6,8,8.4,8.8,9.2,9.6,10],"labels":false,"tickSize":{"condition":{"test":"datum.value % 2 === 0","value":-5},"value":-2.5},"title":null,"zindex":1}},
       "y":{"field":"y","type":"quantitative","bin":{"binned":true,"step":0.5},"scale":{"domain":[0,15],"nice":false,"zero":false},"axis":{"orient":"right","values":[0,1,2,3,4,5,6,7,8,9,10,11,12,13,14,15],"labels":false,"tickSize":{"condition":{"test":"datum.value % 5 === 0","value":-5},"value":-2.5},"title":null,"zindex":1}},
       "color":{"field":"m","type":"quantitative","scale":{"domain":[0,0.22,0.75,1],"range":["#ffffcc","#ffff00","#ff0000","#4a1004"],"interpolate":"rgb","clamp":true},"legend":null},
       "stroke":{"field":"m","type":"quantitative","scale":{"domain":[0,0.22,0.75,1],"range":["#ffffcc","#ffff00","#ff0000","#4a1004"],"interpolate":"rgb","clamp":true},"legend":null}}},
     {"data":{"name":"blocks"},"transform":[{"filter":"datum.p === 'PdM'"}],
      "mark":{"type":"rect","opacity":0},
      "encoding":{
       "x":{"field":"x","type":"quantitative","scale":{"domain":[0,10],"nice":false,"zero":false},"axis":{"orient":"bottom","domain":false,"ticks":false,"labels":false,"title":"S","titleX":141.5,"titleY":59,"titleAngle":0,"titleAlign":"center","titleBaseline":"alphabetic","titleFontSize":24,"zindex":1}},
       "x2":{"field":"x2"},
       "y":{"field":"y","type":"quantitative","scale":{"domain":[0,15],"nice":false,"zero":false},"axis":null},
       "y2":{"field":"y2"}}}
    ],
    "resolve":{"axis":{"x":"independent","y":"independent"}}}
]
}
